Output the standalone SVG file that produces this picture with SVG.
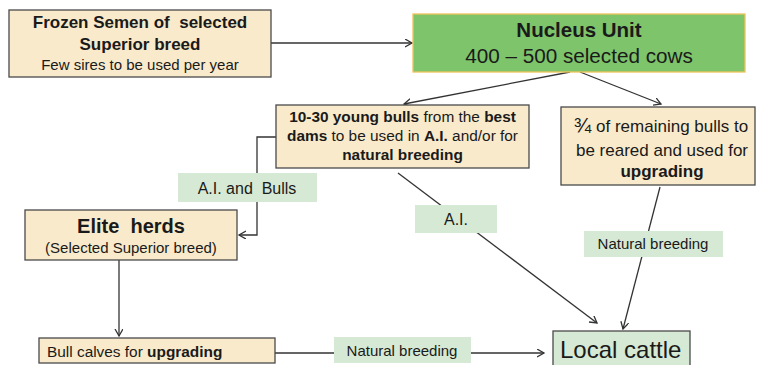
<svg xmlns="http://www.w3.org/2000/svg" width="757" height="365" viewBox="0 0 757 365">
<defs>
<style>
.box{fill:#F9EACB;stroke:#4a4a4a;stroke-width:1.3}
.lbl{fill:#D6E9D4;stroke:none}
.t{font-family:"Liberation Sans",Arial,sans-serif;fill:#1a1a1a}
.c{text-anchor:middle}
.b{font-weight:bold}
.edge{fill:none;stroke:#333;stroke-width:1.3}
</style>
<marker id="ah" markerUnits="userSpaceOnUse" markerWidth="10" markerHeight="10" refX="7" refY="4" orient="auto">
<path d="M0,0 L7,4 L0,8" fill="none" stroke="#333" stroke-width="1.3"/>
</marker>
</defs>
<rect width="757" height="365" fill="#ffffff"/>

<g id="connectors">
<path class="edge" d="M271,43 H412" marker-end="url(#ah)"/>
<path class="edge" d="M570,72 L404,104" marker-end="url(#ah)"/>
<path class="edge" d="M580,72 L661,104" marker-end="url(#ah)"/>
<path class="edge" d="M276,137 H257 V235 H239" marker-end="url(#ah)"/>
<path class="edge" d="M398,173 L597,323" marker-end="url(#ah)"/>
<path class="edge" d="M660,187 L623,329" marker-end="url(#ah)"/>
<path class="edge" d="M119,260 V336" marker-end="url(#ah)"/>
<path class="edge" d="M275,353 H544" marker-end="url(#ah)"/>
</g>

<g id="labels">
<g id="lbl-ai-bulls"><rect class="lbl" x="178" y="173" width="139" height="29"/><text class="t c" x="247" y="194" font-size="16" xml:space="preserve">A.I. and  Bulls</text></g>
<g id="lbl-ai"><rect class="lbl" x="415" y="205" width="82" height="28"/><text class="t c" x="456" y="225" font-size="16">A.I.</text></g>
<g id="lbl-nat-right"><rect class="lbl" x="584" y="231" width="139" height="26"/><text class="t c" x="653" y="249" font-size="15">Natural breeding</text></g>
<g id="lbl-nat-bottom"><rect class="lbl" x="334" y="337" width="137" height="26"/><text class="t c" x="402" y="356" font-size="15">Natural breeding</text></g>
</g>

<g id="frozen-semen">
<rect class="box" x="9" y="10" width="262" height="67"/>
<text class="t c b" x="140" y="28" font-size="17" xml:space="preserve">Frozen Semen of  selected</text>
<text class="t c b" x="140" y="50" font-size="17">Superior breed</text>
<text class="t c" x="140" y="70" font-size="15">Few sires to be used per year</text>
</g>

<g id="nucleus">
<rect x="413" y="14" width="332" height="58" fill="#7DC46B" stroke="#F0C35A" stroke-width="1.3"/>
<text class="t c b" x="579" y="37" font-size="20.5">Nucleus Unit</text>
<text class="t c" x="579" y="63" font-size="20.7">400 – 500 selected cows</text>
</g>

<g id="young-bulls">
<rect class="box" x="276" y="105" width="253" height="63"/>
<text class="t c" x="402.5" y="122" font-size="15.4"><tspan class="b">10-30 young bulls</tspan> from the <tspan class="b">best</tspan></text>
<text class="t c" x="402.5" y="141" font-size="15.4"><tspan class="b">dams</tspan> to be used in <tspan class="b">A.I.</tspan> and/or for</text>
<text class="t c b" x="402.5" y="160" font-size="15.4">natural breeding</text>
</g>

<g id="remaining-bulls">
<rect class="box" x="561" y="107" width="194" height="78"/>
<text class="t c" x="661" y="132" font-size="17"><tspan font-size="21">¾</tspan> of remaining bulls to</text>
<text class="t c" x="662" y="156" font-size="17">be reared and used for</text>
<text class="t c b" x="662" y="177" font-size="17">upgrading</text>
</g>

<g id="elite-herds">
<rect class="box" x="25" y="210" width="212" height="50"/>
<text class="t c b" x="131" y="233" font-size="20" xml:space="preserve">Elite  herds</text>
<text class="t c" x="131" y="253" font-size="15">(Selected Superior breed)</text>
</g>

<g id="bull-calves">
<rect class="box" x="39" y="338" width="236" height="25"/>
<text class="t" x="47" y="357" font-size="15.4">Bull calves for <tspan class="b">upgrading</tspan></text>
</g>

<g id="local-cattle">
<rect x="553" y="331" width="137" height="40" fill="#D6E9D4" stroke="#4a4a4a" stroke-width="1.3"/>
<text class="t" x="560" y="358" font-size="24">Local cattle</text>
</g>
</svg>
